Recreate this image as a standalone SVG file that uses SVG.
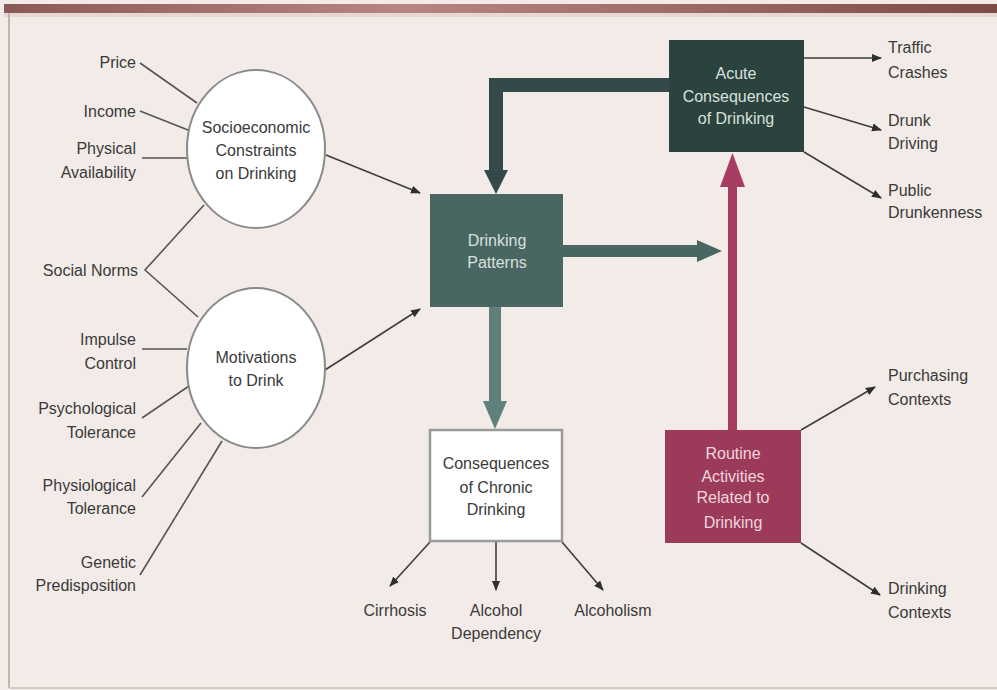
<svg xmlns="http://www.w3.org/2000/svg" width="997" height="690" viewBox="0 0 997 690">
<defs>
<marker id="ah" viewBox="0 0 10 10" refX="9" refY="5" markerWidth="10" markerHeight="10" markerUnits="userSpaceOnUse" orient="auto">
<path d="M0,1 L10,5 L0,9 Z" fill="#2e2e2e"/>
</marker>
<linearGradient id="band" x1="0" y1="0" x2="1" y2="0">
<stop offset="0" stop-color="#8a5a55"/>
<stop offset="0.4" stop-color="#b88682"/>
<stop offset="0.7" stop-color="#9a6a62"/>
<stop offset="1" stop-color="#7e4a44"/>
</linearGradient>
</defs>
<style>
text{font-family:"Liberation Sans",Arial,sans-serif;font-size:16px;fill:#3a3a3a}
.r{text-anchor:end}
.m{text-anchor:middle}
.lt{fill:#d9e0dd;text-anchor:middle}
.lp{fill:#f0d6de;text-anchor:middle}
.thin{stroke:#555;stroke-width:1.6;fill:none}
.arr{stroke:#3e3e3e;stroke-width:1.6;fill:none;marker-end:url(#ah)}
.circ{fill:#ffffff;stroke:#8a8a8a;stroke-width:2}
</style>
<rect x="0" y="0" width="997" height="690" fill="#f2ebe8"/>
<rect x="4" y="4" width="993" height="9" fill="url(#band)"/>
<rect x="4" y="13" width="993" height="4" fill="#e9d7d4"/>
<line x1="9" y1="13" x2="9" y2="688" stroke="#c6b4af" stroke-width="2"/>
<line x1="9" y1="688" x2="997" y2="688" stroke="#d8c9c5" stroke-width="2"/>

<g id="connectors">
<!-- left factor lines -->
<line class="thin" x1="140" y1="63" x2="197" y2="103"/>
<line class="thin" x1="140" y1="111" x2="188" y2="130"/>
<line class="thin" x1="142" y1="158" x2="187" y2="158"/>
<polyline class="thin" points="204,205 145,270 198,317"/>
<line class="thin" x1="142" y1="349" x2="187" y2="349"/>
<line class="thin" x1="142" y1="418" x2="189" y2="386"/>
<line class="thin" x1="142" y1="497" x2="201" y2="423"/>
<line class="thin" x1="140" y1="575" x2="222" y2="441"/>
<!-- circles to Drinking Patterns -->
<line class="arr" x1="326" y1="155" x2="420" y2="193"/>
<line class="arr" x1="325" y1="370" x2="420" y2="309"/>
<!-- thick arrows -->
<path d="M669,85 L496,85 L496,172" fill="none" stroke="#33494a" stroke-width="14"/>
<path d="M484,170 L508,170 L496,194 Z" fill="#33494a"/>
<rect x="563" y="245" width="136" height="12" fill="#4a6663"/>
<path d="M697,240 L722,251 L697,262 Z" fill="#4a6663"/>
<rect x="489" y="307" width="12" height="96" fill="#5f807b"/>
<path d="M483,401 L507,401 L495,429 Z" fill="#5f807b"/>
<rect x="728" y="183" width="9" height="247" fill="#a63c5f"/>
<path d="M720,187 L745,187 L732.5,153 Z" fill="#a63c5f"/>
<!-- acute outcomes -->
<line class="arr" x1="804" y1="58" x2="881" y2="58"/>
<line class="arr" x1="804" y1="107" x2="881" y2="130"/>
<line class="arr" x1="804" y1="152" x2="881" y2="198"/>
<!-- routine outcomes -->
<line class="arr" x1="801" y1="430" x2="875" y2="387"/>
<line class="arr" x1="801" y1="543" x2="880" y2="595"/>
<!-- chronic outcomes -->
<line class="arr" x1="430" y1="542" x2="390" y2="586"/>
<line class="arr" x1="496" y1="542" x2="496" y2="590"/>
<line class="arr" x1="562" y1="542" x2="603" y2="590"/>
</g>

<g id="labels-left">
<text class="r" x="136" y="68">Price</text>
<text class="r" x="136" y="117">Income</text>
<text class="r" x="136" y="154">Physical</text>
<text class="r" x="136" y="178">Availability</text>
<text class="r" x="138" y="276">Social Norms</text>
<text class="r" x="136" y="345">Impulse</text>
<text class="r" x="136" y="369">Control</text>
<text class="r" x="136" y="414">Psychological</text>
<text class="r" x="136" y="438">Tolerance</text>
<text class="r" x="136" y="491">Physiological</text>
<text class="r" x="136" y="514">Tolerance</text>
<text class="r" x="136" y="568">Genetic</text>
<text class="r" x="136" y="591">Predisposition</text>
</g>

<g id="socioeconomic">
<ellipse class="circ" cx="256" cy="149" rx="69" ry="79"/>
<text class="m" x="256" y="133">Socioeconomic</text>
<text class="m" x="256" y="156">Constraints</text>
<text class="m" x="256" y="179">on Drinking</text>
</g>

<g id="motivations">
<ellipse class="circ" cx="256" cy="368" rx="69" ry="80"/>
<text class="m" x="256" y="363">Motivations</text>
<text class="m" x="256" y="386">to Drink</text>
</g>

<g id="drinking-patterns">
<rect x="430" y="194" width="133" height="113" fill="#4a6663"/>
<text class="lt" x="497" y="246">Drinking</text>
<text class="lt" x="497" y="268">Patterns</text>
</g>

<g id="acute">
<rect x="669" y="40" width="135" height="112" fill="#2b423e"/>
<text class="lt" x="736" y="79">Acute</text>
<text class="lt" x="736" y="102">Consequences</text>
<text class="lt" x="736" y="124">of Drinking</text>
</g>

<g id="chronic">
<rect x="430" y="430" width="132" height="111" fill="#ffffff" stroke="#9a9a9a" stroke-width="2.5"/>
<text class="m" x="496" y="469">Consequences</text>
<text class="m" x="496" y="493">of Chronic</text>
<text class="m" x="496" y="515">Drinking</text>
</g>

<g id="routine">
<rect x="665" y="430" width="136" height="113" fill="#9c3a5a"/>
<text class="lp" x="733" y="459">Routine</text>
<text class="lp" x="733" y="482">Activities</text>
<text class="lp" x="733" y="503">Related to</text>
<text class="lp" x="733" y="528">Drinking</text>
</g>

<g id="labels-right">
<text x="888" y="53">Traffic</text>
<text x="888" y="78">Crashes</text>
<text x="888" y="126">Drunk</text>
<text x="888" y="149">Driving</text>
<text x="888" y="196">Public</text>
<text x="888" y="218">Drunkenness</text>
<text x="888" y="381">Purchasing</text>
<text x="888" y="405">Contexts</text>
<text x="888" y="594">Drinking</text>
<text x="888" y="618">Contexts</text>
</g>

<g id="labels-bottom">
<text class="m" x="395" y="616">Cirrhosis</text>
<text class="m" x="496" y="616">Alcohol</text>
<text class="m" x="496" y="639">Dependency</text>
<text class="m" x="613" y="616">Alcoholism</text>
</g>
</svg>
